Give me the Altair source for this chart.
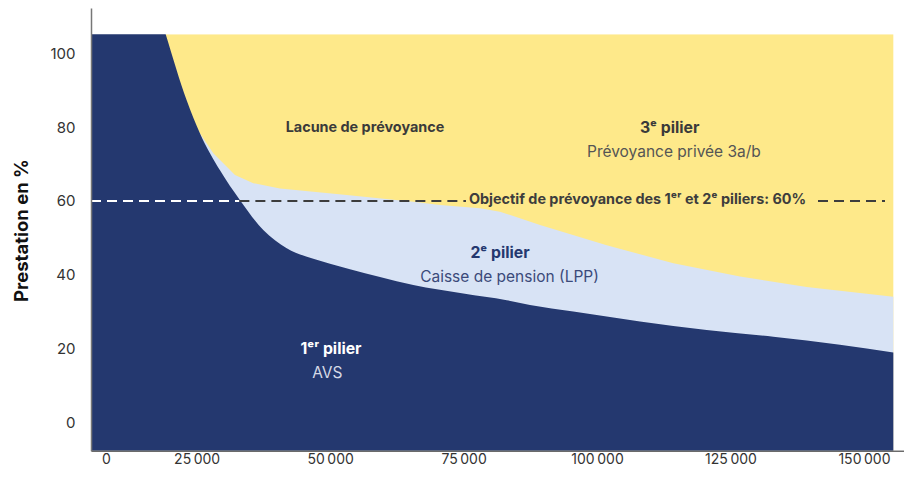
import altair as alt
import pandas as pd

# ---- data ----
X_MIN, X_MAX = 5208, 157500
Y_MIN, Y_MAX = -7.7, 112.3
AREA_X_END = 155500
AREA_TOP = 105.2

# 1st pillar (AVS) curve (values above AREA_TOP are cut off by the frame)
avs_x = [5208, 16500, 19200, 23130, 25630, 29370, 33120, 37480, 41870, 46850, 49980,
         53720, 59340, 65580, 74950, 83080, 87440, 95550, 108050, 120540,
         133020, 145500, 155500]
avs_y = [118.0, 118.0, 105.2, 87.3, 78.3, 68.3, 60.2, 52.1, 47.2, 44.3, 43.0,
         41.5, 39.4, 37.2, 34.9, 33.1, 31.8, 30.0, 27.3, 25.0, 23.2, 21.0, 18.9]

# 1st + 2nd pillar (LPP) curve (hidden under AVS left of ~24 000)
lpp_x = [5208, 24370, 28120, 32180, 35610, 40610, 53110, 65580,
         70580, 78080, 81820, 89320, 101810, 114290, 126780, 139270, 155500]
lpp_y = [81.0, 81.0, 72.9, 67.0, 64.8, 63.4, 61.6, 59.8,
         58.9, 58.0, 57.1, 53.5, 48.0, 43.1, 39.5, 36.7, 34.0]

# 60 % target line segments
goal_x = [5208, 33000, 141390]
goal_x2 = [33000, 75450, 153940]
goal_color = ["#ffffff", "#3d3d3d", "#3d3d3d"]
GOAL = 60

# labels
head_text = ["Lacune de prévoyance",
             "Objectif de prévoyance des 1ᵉʳ et 2ᵉ piliers: 60%"]
head_x = [56530, 107580]
head_y = [79.7, 60.2]
head_color = ["#3a3a3a", "#3d3d3d"]

pillar_text = ["3ᵉ pilier", "2ᵉ pilier", "1ᵉʳ pilier"]
pillar_x = [113600, 81820, 50170]
pillar_y = [79.7, 46.0, 19.8]
pillar_color = ["#3a3a3a", "#24386f", "#ffffff"]

reg_text = ["Prévoyance privée 3a/b", "Caisse de pension (LPP)", "AVS"]
reg_x = [114400, 83600, 49470]
reg_y = [73.3, 39.4, 13.4]
reg_color = ["#555555", "#3b4a7a", "#d6dae6"]

x_ticks = [8000, 25000, 50000, 75000, 100000, 125000, 150000]
y_ticks = [0, 20, 40, 60, 80, 100]

FONT = "Inter"

xs = alt.Scale(domain=[X_MIN, X_MAX], nice=False, zero=False)
ys = alt.Scale(domain=[Y_MIN, Y_MAX], nice=False, zero=False)

bg = pd.DataFrame({"x": [X_MIN], "x2": [AREA_X_END], "y": [Y_MIN], "y2": [AREA_TOP]})
cover = pd.DataFrame({"x": [X_MIN], "x2": [X_MAX], "y": [AREA_TOP], "y2": [Y_MAX]})
avs = pd.DataFrame({"x": avs_x, "y": avs_y, "b": Y_MIN})
lpp = pd.DataFrame({"x": lpp_x, "y": lpp_y, "b": Y_MIN})
goal = pd.DataFrame({"x": goal_x, "x2": goal_x2, "y": GOAL, "c": goal_color})
head = pd.DataFrame({"t": head_text, "x": head_x, "y": head_y, "c": head_color})
pillar = pd.DataFrame({"t": pillar_text, "x": pillar_x, "y": pillar_y, "c": pillar_color})
reg = pd.DataFrame({"t": reg_text, "x": reg_x, "y": reg_y, "c": reg_color})

x_axis = alt.Axis(values=x_ticks, grid=False, ticks=False, labelPadding=2,
                  labelFontSize=14, labelColor="#333333", labelFont=FONT,
                  domainColor="#333333", domainWidth=1, title=None, zindex=1,
                  labelExpr="datum.value < 10000 ? '0' : replace(format(datum.value, ','), ',', '\u2009')")
y_axis = alt.Axis(values=y_ticks, grid=False, ticks=False, labelPadding=16,
                  labelFontSize=15, labelColor="#333333", labelFont=FONT,
                  domainColor="#777777", domainWidth=1.5, zindex=1,
                  title="Prestation en %", titleFont=FONT, titleFontSize=18.5,
                  titleFontWeight="bold", titleColor="#111111",
                  titleX=-70, titleY=222, titleAngle=270,
                  titleAlign="center", titleBaseline="middle")

base_bg = alt.Chart(bg).mark_rect(color="#fee98a").encode(
    x=alt.X("x:Q", scale=xs, axis=x_axis), x2="x2:Q",
    y=alt.Y("y:Q", scale=ys, axis=y_axis), y2="y2:Q")

lpp_area = alt.Chart(lpp).mark_area(color="#d8e3f5", interpolate="linear").encode(
    x=alt.X("x:Q", scale=xs), y=alt.Y("y:Q", scale=ys), y2="b:Q")

avs_area = alt.Chart(avs).mark_area(color="#24386f", interpolate="monotone",
                                    clip=True).encode(
    x=alt.X("x:Q", scale=xs), y=alt.Y("y:Q", scale=ys), y2="b:Q")

top_cover = alt.Chart(cover).mark_rect(color="#ffffff").encode(
    x=alt.X("x:Q", scale=xs), x2="x2:Q", y=alt.Y("y:Q", scale=ys), y2="y2:Q")

goal_rule = alt.Chart(goal).mark_rule(strokeDash=[10, 6], strokeWidth=2).encode(
    x=alt.X("x:Q", scale=xs), x2="x2:Q", y=alt.Y("y:Q", scale=ys),
    color=alt.Color("c:N", scale=None))


def text_layer(df, size, weight):
    return alt.Chart(df).mark_text(font=FONT, fontSize=size, fontWeight=weight,
                                   align="center", baseline="middle").encode(
        x=alt.X("x:Q", scale=xs), y=alt.Y("y:Q", scale=ys), text="t:N",
        color=alt.Color("c:N", scale=None))


head_txt = text_layer(head, 14.4, "bold")
pillar_txt = text_layer(pillar, 15.8, "bold")
reg_txt = text_layer(reg, 15.5, "normal")

chart = alt.layer(base_bg, lpp_area, avs_area, top_cover, goal_rule,
                  head_txt, pillar_txt, reg_txt).properties(
    width=813, height=442.7,
    padding={"left": 83, "top": 0, "right": 0, "bottom": 16.3},
    autosize=alt.AutoSizeParams(type="none"),
).configure_view(stroke=None).configure(background="#ffffff")

chart.save("out.html", embed_options={"renderer": "svg", "actions": False})
